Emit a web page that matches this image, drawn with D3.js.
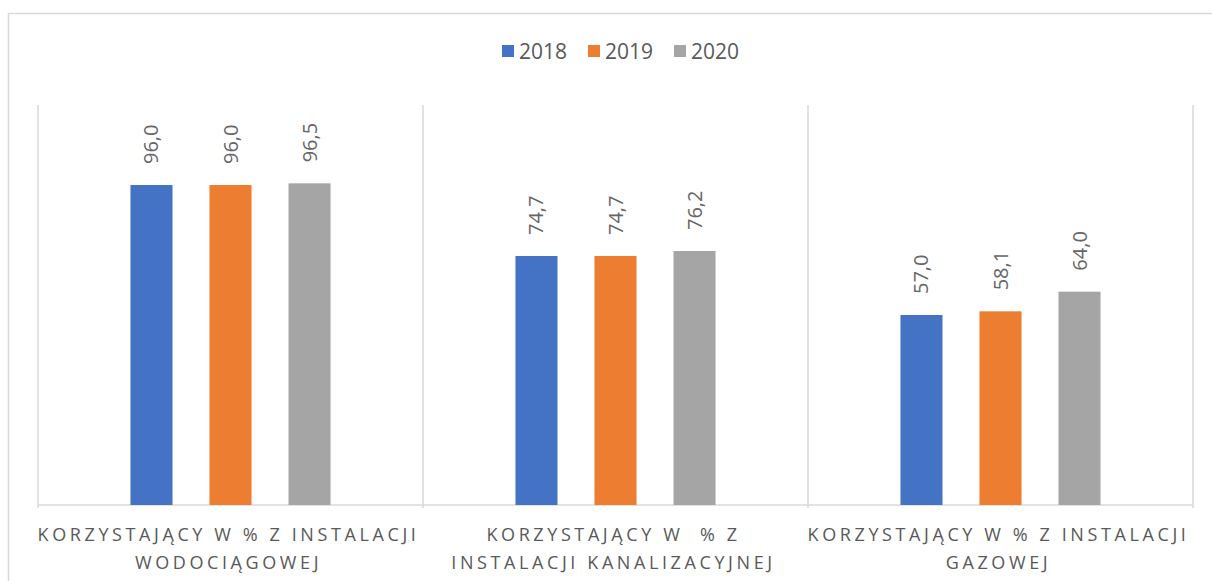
<!DOCTYPE html>
<html>
<head>
<meta charset="utf-8">
<script src="https://cdn.jsdelivr.net/npm/d3@7"></script>
<style>
  body { margin: 0; background: #fff; }
  text { font-family: "Open Sans", sans-serif; fill: #595959; }
</style>
</head>
<body>
<div id="chart"></div>
<script>
// Size
const WIDTH = 1212;
const HEIGHT = 581;

// Data
const categories = ["wod", "kan", "gaz"];
const categoryLines = [
  ["KORZYSTAJĄCY W % Z INSTALACJI", "WODOCIĄGOWEJ"],
  ["KORZYSTAJĄCY W\u00a0\u00a0% Z", "INSTALACJI KANALIZACYJNEJ"],
  ["KORZYSTAJĄCY W % Z INSTALACJI", "GAZOWEJ"]
];
const years = ["2018", "2019", "2020"];
const values2018 = [96.0, 74.7, 57.0];
const values2019 = [96.0, 74.7, 58.1];
const values2020 = [96.5, 76.2, 64.0];
const yearColors = ["#4472c4", "#ed7d31", "#a5a5a5"];

const series = [values2018, values2019, values2020];

// Layout
const margin = { top: 105, right: 19, bottom: 76, left: 38 };
const innerW = WIDTH - margin.left - margin.right;
const innerH = HEIGHT - margin.top - margin.bottom;

const svg = d3
  .select("#chart")
  .append("svg")
  .attr("width", WIDTH)
  .attr("height", HEIGHT);

// Chart border
svg
  .append("rect")
  .attr("x", 8.5)
  .attr("y", 13.5)
  .attr("width", 1220)
  .attr("height", 600)
  .attr("fill", "none")
  .attr("stroke", "#d9d9d9")
  .attr("stroke-width", 1.5);

const g = svg
  .append("g")
  .attr("transform", "translate(" + margin.left + "," + margin.top + ")");

// Scales
const x0 = d3.scaleBand().domain(categories).range([0, innerW]).padding(0);
const x1 = d3
  .scaleBand()
  .domain(years)
  .range([0, x0.bandwidth()])
  .paddingInner(0.468)
  .paddingOuter(1.17);
const y = d3.scaleLinear().domain([0, 120]).range([innerH, 0]);

// Category separators
g.selectAll("line.sep")
  .data(d3.range(categories.length + 1))
  .enter()
  .append("line")
  .attr("class", "sep")
  .attr("x1", (i) => i * x0.step())
  .attr("x2", (i) => i * x0.step())
  .attr("y1", 0)
  .attr("y2", innerH + 3)
  .attr("stroke", "#d9d9d9")
  .attr("stroke-width", 1.5);

// Baseline
g.append("line")
  .attr("x1", 0)
  .attr("x2", innerW)
  .attr("y1", innerH)
  .attr("y2", innerH)
  .attr("stroke", "#d9d9d9")
  .attr("stroke-width", 1.5);

// Bars
const groups = g
  .selectAll("g.cat")
  .data(categories)
  .enter()
  .append("g")
  .attr("class", "cat")
  .attr("transform", (d) => "translate(" + x0(d) + ",0)");

groups
  .selectAll("rect")
  .data((d, ci) => years.map((yr, si) => ({ yr, si, v: series[si][ci] })))
  .enter()
  .append("rect")
  .attr("x", (d) => x1(d.yr))
  .attr("y", (d) => y(d.v))
  .attr("width", x1.bandwidth())
  .attr("height", (d) => y(0) - y(d.v))
  .attr("fill", (d) => yearColors[d.si]);

// Value labels
groups
  .selectAll("text.val")
  .data((d, ci) => years.map((yr, si) => ({ yr, si, v: series[si][ci] })))
  .enter()
  .append("text")
  .attr("class", "val")
  .attr(
    "transform",
    (d) =>
      "translate(" +
      (x1(d.yr) + x1.bandwidth() / 2 + 7) +
      "," +
      (y(d.v) - 21) +
      ") rotate(-90)"
  )
  .attr("font-size", 20)
  .style("fill", "#666")
  .text((d) => d.v.toFixed(1).replace(".", ","));

// Category labels
const labels = g
  .selectAll("text.cat")
  .data(categories)
  .enter()
  .append("text")
  .attr("class", "cat")
  .attr("text-anchor", "middle")
  .attr("font-size", 18)
  .attr("letter-spacing", 3.6)
  .attr("transform", (d) => "translate(" + (x0(d) + x0.bandwidth() / 2 - 2) + "," + (innerH + 36) + ")");

labels
  .selectAll("tspan")
  .data((d, i) => categoryLines[i])
  .enter()
  .append("tspan")
  .attr("x", 0)
  .attr("dy", (d, i) => (i === 0 ? 0 : 28))
  .text((d) => d);

// Legend
const legend = svg.append("g").attr("transform", "translate(502,38)");
const legItems = legend
  .selectAll("g")
  .data(years)
  .enter()
  .append("g")
  .attr("transform", (d, i) => "translate(" + i * 86 + ",0)");

legItems
  .append("rect")
  .attr("width", 12)
  .attr("height", 12)
  .attr("y", 7)
  .attr("fill", (d, i) => yearColors[i]);

legItems
  .append("text")
  .attr("x", 17)
  .attr("y", 21)
  .attr("font-size", 21)
  .text((d) => d);
</script>
</body>
</html>
